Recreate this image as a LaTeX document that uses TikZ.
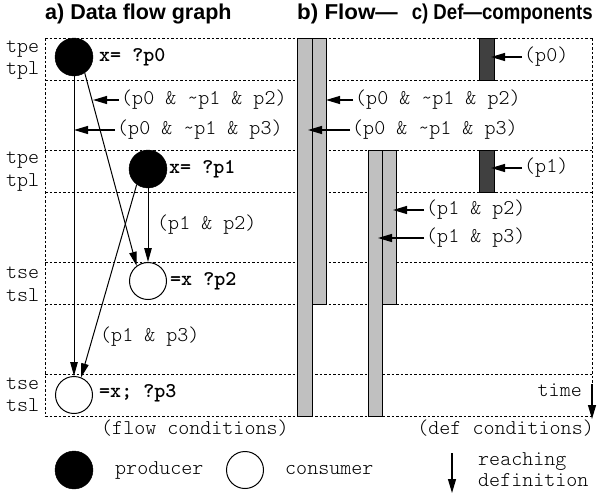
\documentclass[tikz,border=0pt]{standalone}
\usepackage{fontspec}
\setmainfont{Liberation Serif}
\setsansfont{Liberation Sans}
\setmonofont{Latin Modern Mono Light}
\usetikzlibrary{arrows.meta}
\definecolor{bargray}{HTML}{C0C0C0}
\definecolor{defgray}{HTML}{404040}
\begin{document}
\begin{tikzpicture}[x=1pt,y=-1pt,
  grid/.style={line width=0.9pt,dash pattern=on 2.5pt off 2pt},
  flowbar/.style={draw=black,line width=0.8pt,fill=bargray},
  defbar/.style={draw=black,line width=1pt,fill=defgray},
  prod/.style={circle,fill=black,draw=black,minimum size=38pt,inner sep=0pt},
  cons/.style={circle,fill=white,draw=black,line width=1pt,minimum size=37pt,inner sep=0pt},
  tt/.style={font=\fontsize{21}{22}\selectfont\ttfamily,inner sep=0pt,anchor=west},
  ttb/.style={font=\fontsize{21}{22}\selectfont\ttfamily\bfseries,inner sep=0pt,anchor=west},
  title/.style={font=\fontsize{21.5}{24}\selectfont\sffamily\bfseries,inner sep=0pt,anchor=west},
  edge/.style={line width=1pt,-{Triangle[length=14pt,width=7.5pt]}},
  pointer/.style={line width=1.2pt,-{Triangle[length=14pt,width=8pt]}}]
\useasboundingbox (0,0) rectangle (598,496);

% titles
\node[title] (ta) at (45,14) {a) Data flow graph};
\node[title] (tb) at (297,14) {\scalebox{1.04}[1]{b) Flow—}};
\node[title,anchor=east] (tc) at (593,14) {\scalebox{0.866}[1]{c) Def—components}};

% grid
\foreach \yy in {38,80,150,192,262,304,374,416}
  \draw[grid] (45,\yy) -- (592,\yy);
\draw[grid] (45,38) -- (45,416);
\draw[grid] (592,38) -- (592,416);

% time labels
\node[tt] (tpe1) at (6,49) {tpe};
\node[tt] (tpl1) at (6,70) {tpl};
\node[tt] (tpe2) at (6,160) {tpe};
\node[tt] (tpl2) at (6,182) {tpl};
\node[tt] (tse1) at (6,273) {tse};
\node[tt] (tsl1) at (6,295) {tsl};
\node[tt] (tse2) at (6,384) {tse};
\node[tt] (tsl2) at (6,405) {tsl};

% flow bars
\draw[flowbar] (297,38) rectangle (312,416);
\draw[flowbar] (312,38) rectangle (326,304);
\draw[flowbar] (368,150) rectangle (382,416);
\draw[flowbar] (382,150) rectangle (396,304);
% def bars
\draw[defbar] (479,38) rectangle (494,80);
\draw[defbar] (479,150) rectangle (494,192);

% data flow graph
\node[prod] (p0) at (74,57) {};
\node[prod] (p1) at (148,169) {};
\node[cons] (p2) at (148,281) {};
\node[cons] (p3) at (74,395) {};
\node[ttb] (lp0) at (99,57) {x= ?p0};
\node[ttb] (lp1) at (169,169) {x= ?p1};
\node[ttb] (lp2) at (170,281) {=x ?p2};
\node[ttb] (lp3) at (99,393) {=x; ?p3};

\draw[edge] (p0.south) -- (p3.north);
\draw[edge] (p0.-56) -- (p2.127);
\draw[edge] (p1.south) -- (p2.north);
\draw[edge] (p1.-126) -- (p3.68);

\node[tt] (c12) at (157,225) {(p1 \& p2)};
\node[tt] (c13) at (100,337) {(p1 \& p3)};

% pointers left
\node[tt] (l1) at (121,100) {(p0 \& \textasciitilde p1 \& p2)};
\node[tt] (l2) at (117,130) {(p0 \& \textasciitilde p1 \& p3)};
\coordinate (t1) at (93,100);
\coordinate (t2) at (74,130);
\draw[pointer] ([xshift=-2pt]l1.west) -- (t1);
\draw[pointer] ([xshift=-2pt]l2.west) -- (t2);

% pointers right
\node[tt] (r0) at (524,57) {(p0)};
\node[tt] (r1) at (355,100) {(p0 \& \textasciitilde p1 \& p2)};
\node[tt] (r2) at (352,130) {(p0 \& \textasciitilde p1 \& p3)};
\node[tt] (r3) at (524,168) {(p1)};
\node[tt] (r4) at (426,210) {(p1 \& p2)};
\node[tt] (r5) at (426,238) {(p1 \& p3)};
\coordinate (s0) at (491,57);
\coordinate (s1) at (326,100);
\coordinate (s2) at (308,130);
\coordinate (s3) at (491,168);
\coordinate (s4) at (393,210);
\coordinate (s5) at (378,238);
\draw[pointer] ([xshift=-2pt]r0.west) -- (s0);
\draw[pointer] ([xshift=-2pt]r1.west) -- (s1);
\draw[pointer] ([xshift=-2pt]r2.west) -- (s2);
\draw[pointer] ([xshift=-2pt]r3.west) -- (s3);
\draw[pointer] ([xshift=-2pt]r4.west) -- (s4);
\draw[pointer] ([xshift=-2pt]r5.west) -- (s5);

% bottom
\node[tt] (fc) at (101,428) {(flow conditions)};
\node[tt,anchor=east] (dc) at (594,428) {(def conditions)};
\node[tt,anchor=east] (time) at (582,390) {time};
\coordinate (ta0) at (592,384);
\coordinate (ta1) at (592,419);
\draw[pointer] (ta0) -- (ta1);

% legend
\node[prod] (lgp) at (74,470) {};
\node[tt] (lgpt) at (115,470) {producer};
\node[cons] (lgc) at (245,470) {};
\node[tt] (lgct) at (285,470) {consumer};
\coordinate (ra0) at (452,453);
\coordinate (ra1) at (452,493);
\draw[pointer] (ra0) -- (ra1);
\node[tt] (rd1) at (478,462) {reaching};
\node[tt] (rd2) at (478,480) {definition};
\end{tikzpicture}
\end{document}
